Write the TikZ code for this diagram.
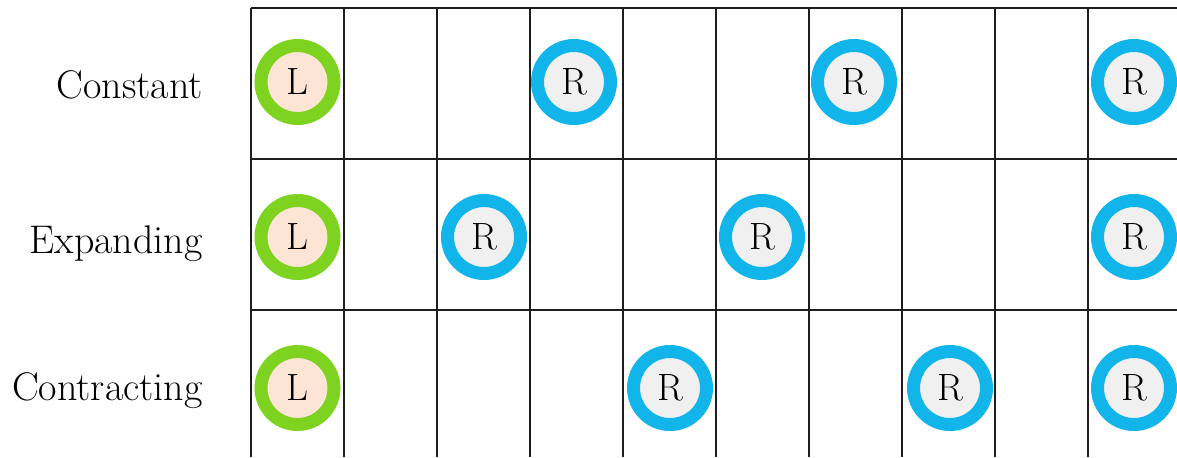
\documentclass[tikz,border=0pt]{standalone}
\usepackage{fontspec}
\usepackage{tikz}
\usetikzlibrary{positioning}
\definecolor{lrgreen}{HTML}{7ED321}
\definecolor{lrpeach}{HTML}{FDE5D5}
\definecolor{lrblue} {HTML}{12B5EA}
\definecolor{lrgrey} {HTML}{F0F0F0}
\definecolor{lrink}  {HTML}{1E1E1E}
\tikzset{
  lrgrid/.style={draw=lrink, line width=1pt},
  lrlabel/.style={anchor=base east, inner sep=0pt, font=\fontsize{20}{24}\selectfont},
  lrtoken/.style={circle, minimum size=36.5pt, inner sep=0pt, line width=6.5pt,
                  font=\fontsize{19}{23}\selectfont},
  lrleft/.style={lrtoken, draw=lrgreen, fill=lrpeach},
  lrright/.style={lrtoken, draw=lrblue, fill=lrgrey},
}
\begin{document}
\begin{tikzpicture}[x=0.5pt,y=-0.5pt]
  \useasboundingbox (0,0) rectangle (1177,457);
  % grid
  \foreach \i in {0,...,9}
    {\draw[lrgrid] (251+\i*93,8) -- (251+\i*93,457);}
  \foreach \j in {0,1,2}
    {\draw[lrgrid] (251,8+\j*151) -- (1177,8+\j*151);}
  % row labels
  \node[lrlabel] (constant) at (203,98) {Constant};
  \node[lrlabel] (expanding) at (203,253) {Expanding};
  \node[lrlabel] (contracting) at (203,400) {Contracting};
  % tokens
  \foreach \n/\y in {c/82,e/237,x/388}
    {\node[lrleft] (\n-l) at (297.5,\y) {L};}
  \foreach \n/\x/\y in {c-r1/574/82,c-r2/854/82,c-r3/1134/82,
                        e-r1/484/237,e-r2/762/237,e-r3/1134/237,
                        x-r1/670/388,x-r2/950/388,x-r3/1134/388}
    {\node[lrright] (\n) at (\x,\y) {R};}
\end{tikzpicture}
\end{document}
